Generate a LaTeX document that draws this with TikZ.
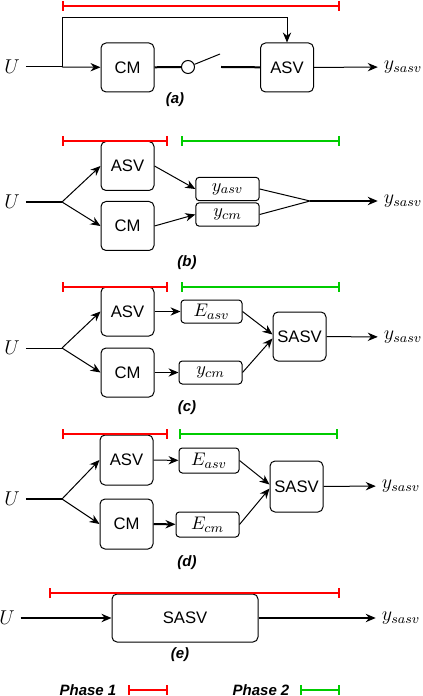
\documentclass[tikz,border=0pt]{standalone}
\usepackage{fontspec}
\setsansfont{Liberation Sans}
\usetikzlibrary{arrows.meta}

\definecolor{phaseRed}{RGB}{255,0,0}
\definecolor{phaseGreen}{RGB}{0,204,0}

\tikzset{
  blk/.style={draw, rounded corners=3pt, font=\sffamily, line width=0.6pt,
    minimum width=31.8pt, minimum height=29.4pt, inner sep=0pt},
  sig/.style={draw, rounded corners=2pt, line width=0.6pt, font=\fontsize{11}{13}\selectfont,
    minimum width=38pt, minimum height=14pt, inner sep=0pt},
  io/.style={font=\large},
  flow/.style={-{Stealth[length=6pt,width=5pt]}, line width=0.6pt},
  bold/.style={line width=1.2pt},
  tag/.style={font=\fontsize{9}{11}\selectfont\sffamily\bfseries\itshape},
  phaseone/.style={draw=phaseRed, line width=1.3pt, {Bar[width=6pt]}-{Bar[width=6pt]}},
  phasetwo/.style={draw=phaseGreen, line width=1.3pt, {Bar[width=6pt]}-{Bar[width=6pt]}},
}

\begin{document}
\begin{tikzpicture}[x=0.6pt, y=-0.6pt, line width=0.6pt]

  \useasboundingbox (0,0) rectangle (422,696);

  % (a)
  \node[blk] (cmA)  at (127.5,67.5) {CM};
  \node[blk] (asvA) at (287,67.5)   {ASV};
  \node[io] (uA) at (12,67)  {$U$};
  \node[io] (yA) at (403,67) {$y_{sasv}$};
  \node[circle, draw, minimum size=7.8pt, inner sep=0pt] (swA) at (188,67) {};
  \coordinate (splitA) at (62,67);
  \coordinate (topA)   at (62,18);
  \coordinate (leverA) at (220,54);
  \coordinate (gapA)   at (221,67);
  \draw (uA) -- (splitA);
  \draw[flow] (splitA) -- (cmA);
  \draw[flow] (splitA) -- (topA) -| (asvA.north);
  \draw[bold] (cmA) -- (swA);
  \draw (swA) -- (leverA);
  \draw[bold] (gapA) -- (asvA);
  \draw[flow] (asvA) -- (yA);
  \draw[phaseone] (62,6) -- (340,6);
  \node[tag] (labA) at (175,100) {(a)};

  % (b)
  \node[blk] (asvB) at (127.5,166) {ASV};
  \node[blk] (cmB)  at (127.5,226) {CM};
  \node[sig] (yasvB) at (227.5,189)   {$y_{asv}$};
  \node[sig] (ycmB)  at (227.5,214.5) {$y_{cm}$};
  \node[io] (uB) at (12,202)  {$U$};
  \node[io] (yB) at (403,201) {$y_{sasv}$};
  \coordinate (splitB) at (62,202);
  \coordinate (joinB)  at (310,201);
  \draw[bold] (uB) -- (splitB);
  \draw[flow] (splitB) -- (asvB.west);
  \draw[flow] (splitB) -- (cmB.west);
  \draw[flow] (asvB.east) -- (yasvB.west);
  \draw[flow] (cmB.east) -- (ycmB.west);
  \draw (yasvB.east) -- (joinB) -- (ycmB.east);
  \draw[flow, bold] (joinB) -- (yB);
  \draw[phaseone] (62,141) -- (168,141);
  \draw[phasetwo] (181,141) -- (340,141);
  \node[tag] (labB) at (187,263) {(b)};

  % (c)
  \node[blk] (asvC)  at (127.5,311.5) {ASV};
  \node[blk] (cmC)   at (127.5,372.5) {CM};
  \node[sig, minimum width=36.6pt, minimum height=13.8pt] (easvC) at (211.5,311.5) {$E_{asv}$};
  \node[sig, minimum width=37.8pt, minimum height=13.8pt] (ycmC)  at (210.5,372.5) {$y_{cm}$};
  \node[blk] (sasvC) at (299.5,336.5) {SASV};
  \node[io] (uC) at (12,348)  {$U$};
  \node[io] (yC) at (403,337) {$y_{sasv}$};
  \coordinate (splitC) at (62,348);
  \draw (uC) -- (splitC);
  \draw[flow] (splitC) -- (asvC.west);
  \draw[flow] (splitC) -- (cmC.west);
  \draw[flow] (asvC) -- (easvC);
  \draw[flow] (cmC) -- (ycmC);
  \draw[flow] (easvC.east) -- ([yshift=1.2pt]sasvC.west);
  \draw[flow] (ycmC.east) -- ([yshift=-1.2pt]sasvC.west);
  \draw[flow] (sasvC) -- (yC);
  \draw[phaseone] (62,287) -- (168,287);
  \draw[phasetwo] (181,287) -- (340,287);
  \node[tag] (labC) at (187,408) {(c)};

  % (d)
  \node[blk, minimum height=30pt] (asvD)  at (126.5,460) {ASV};
  \node[blk, minimum height=30pt] (cmD)   at (126.5,524) {CM};
  \node[sig, minimum width=36pt, minimum height=15pt] (easvD) at (209,460.5)   {$E_{asv}$};
  \node[sig, minimum width=37.8pt, minimum height=15pt] (ecmD) at (207.5,524.5) {$E_{cm}$};
  \node[blk, minimum height=30.6pt] (sasvD) at (296.5,486.5) {SASV};
  \node[io] (uD) at (12,499)  {$U$};
  \node[io] (yD) at (401,486) {$y_{sasv}$};
  \coordinate (splitD) at (62,499);
  \draw[bold] (uD) -- (splitD);
  \draw[flow] (splitD) -- (asvD.west);
  \draw[flow] (splitD) -- (cmD.west);
  \draw[flow] (asvD) -- (easvD);
  \draw[flow, bold] (cmD) -- (ecmD);
  \draw[flow] (easvD.east) -- ([yshift=1.2pt]sasvD.west);
  \draw[flow] (ecmD.east) -- ([yshift=-1.2pt]sasvD.west);
  \draw[flow] (sasvD) -- (yD);
  \draw[phaseone] (62,434) -- (168,434);
  \draw[phasetwo] (179,434) -- (338,434);
  \node[tag] (labD) at (187,563) {(d)};

  % (e)
  \node[blk, minimum width=87.6pt, minimum height=28.8pt] (sasvE) at (185,618) {SASV};
  \node[io] (uE) at (7,618)   {$U$};
  \node[io] (yE) at (401,618) {$y_{sasv}$};
  \draw[flow, bold] (uE) -- (sasvE);
  \draw[flow, bold] (sasvE) -- (yE);
  \draw[phaseone] (49,593) -- (340,593);
  \node[tag] (labE) at (180,655) {(e)};

  % legend
  \node[tag] (ph1) at (88,690)  {Phase 1};
  \node[tag] (ph2) at (261,690) {Phase 2};
  \draw[phaseone] (128,690) -- (168,690);
  \draw[phasetwo] (300,690) -- (340,690);

\end{tikzpicture}
\end{document}
